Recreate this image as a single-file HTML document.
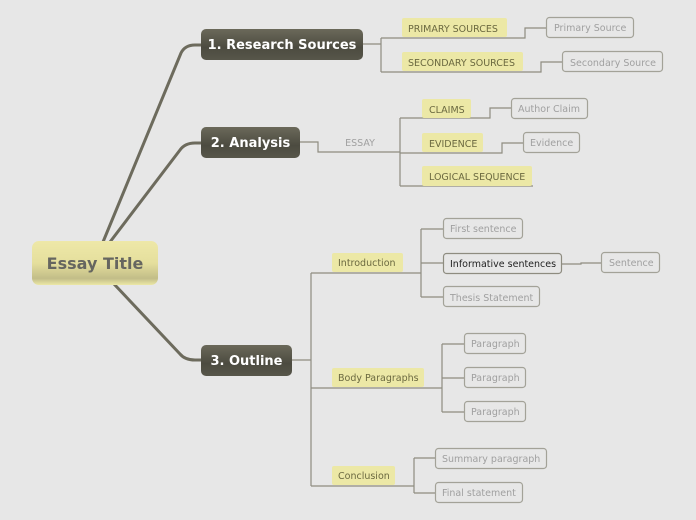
<!DOCTYPE html>
<html><head><meta charset="utf-8"><style>
html,body{margin:0;padding:0;background:#e7e7e7;}
svg{display:block}
text{font-family:"DejaVu Sans","Liberation Sans",sans-serif;}
.y{fill:#ece8a6}
.yt{fill:#6b6940;font-size:9.5px}
.w{fill:#e7e7e7;stroke:#a3a298;stroke-width:1.2}
.wt{fill:#a0a0a0;font-size:9.5px}
.l{fill:none;stroke:#8e8c80;stroke-width:1.2}
.r{fill:none;stroke:#6d6b5d;stroke-width:3}
.dt{fill:#fff;font-size:13px;font-weight:bold}
</style></head><body>
<svg width="696" height="520" viewBox="0 0 696 520">
<defs>
<linearGradient id="dk" x1="0" y1="0" x2="0" y2="1"><stop offset="0" stop-color="#6b695a"/><stop offset="0.6" stop-color="#4c4b40"/><stop offset="1" stop-color="#57564a"/></linearGradient>
<linearGradient id="yl" x1="0" y1="0" x2="0" y2="1"><stop offset="0" stop-color="#eee8a8"/><stop offset="0.5" stop-color="#e5df9d"/><stop offset="0.85" stop-color="#c2bd88"/><stop offset="1" stop-color="#ece8a6"/></linearGradient>
</defs>
<!-- root connectors -->
<path class="r" d="M103 242 L181 53 Q185 45 195 45 L202 45"/>
<path class="r" d="M110 242 L180 150 Q185 143 195 143 L202 143"/>
<path class="r" d="M114 284 L180 354 Q185 360 195 360 L202 360"/>
<!-- root -->
<rect x="32" y="241" width="126" height="44" rx="7" fill="url(#yl)"/>
<text x="95" y="269" text-anchor="middle" fill="#666660" font-size="16" font-weight="bold">Essay Title</text>
<!-- main nodes -->
<rect x="201" y="29" width="162" height="31" rx="5" fill="url(#dk)"/>
<text x="282" y="49" text-anchor="middle" class="dt">1. Research Sources</text>
<rect x="201" y="127" width="99" height="31" rx="5" fill="url(#dk)"/>
<text x="250.5" y="147" text-anchor="middle" class="dt">2. Analysis</text>
<rect x="201" y="345" width="91" height="31" rx="5" fill="url(#dk)"/>
<text x="246.5" y="365" text-anchor="middle" class="dt">3. Outline</text>

<!-- Research -->
<path class="l" d="M363 44 H381 M381 38 V72 M381 38 H525 V28 H546 M381 72 H541 V62 H562"/>
<rect class="y" x="402" y="18" width="105" height="19" rx="2"/>
<text class="yt" x="408" y="32">PRIMARY SOURCES</text>
<rect class="y" x="402" y="52" width="121" height="19" rx="2"/>
<text class="yt" x="408" y="66">SECONDARY SOURCES</text>
<rect class="w" x="546.5" y="17.5" width="87" height="20" rx="3"/>
<text class="wt" x="554" y="31">Primary Source</text>
<rect class="w" x="562.5" y="51.5" width="100" height="20" rx="3"/>
<text class="wt" x="570" y="66">Secondary Source</text>

<!-- Analysis -->
<path class="l" d="M300 142 H318 V152 H400 M400 118 V186 M400 118 H490 V108 H511 M400 153 H502 V143 H523 M400 186 H533"/>
<text x="360" y="146" text-anchor="middle" class="wt" font-size="9">ESSAY</text>
<rect class="y" x="422" y="99" width="49" height="19" rx="2"/>
<text class="yt" x="429" y="113">CLAIMS</text>
<rect class="y" x="422" y="133" width="61" height="19" rx="2"/>
<text class="yt" x="429" y="147">EVIDENCE</text>
<rect class="y" x="422" y="166" width="110" height="20" rx="2"/>
<text class="yt" x="429" y="180">LOGICAL SEQUENCE</text>
<rect class="w" x="511.5" y="98.5" width="76" height="20" rx="3"/>
<text class="wt" x="518" y="112">Author Claim</text>
<rect class="w" x="523.5" y="132.5" width="56" height="20" rx="3"/>
<text class="wt" x="530" y="146">Evidence</text>

<!-- Outline -->
<path class="l" d="M292 360 H311 M311 273 V486 M311 273 H421 M421 229 V297 M421 229 H443 M421 263 H443 M421 297 H443 M562 264 H581 V263 H602
 M311 388 H442 M442 344 V412 M442 344 H464 M442 378 H464 M442 412 H464 M311 486 H414 M414 458 V493 M414 458 H435 M414 493 H435"/>
<rect class="y" x="332" y="253" width="71" height="19" rx="2"/>
<text class="yt" x="338" y="266">Introduction</text>
<rect class="y" x="332" y="368" width="92" height="19" rx="2"/>
<text class="yt" x="338" y="381">Body Paragraphs</text>
<rect class="y" x="332" y="466" width="63" height="19" rx="2"/>
<text class="yt" x="338" y="479">Conclusion</text>

<rect class="w" x="443.5" y="218.5" width="79" height="20" rx="3"/>
<text class="wt" x="450" y="232">First sentence</text>
<rect class="w" x="443.5" y="253.5" width="118" height="20" rx="3" style="stroke:#8e8c80"/>
<text class="wt" x="450" y="267" style="fill:#222">Informative sentences</text>
<rect class="w" x="443.5" y="286.5" width="96" height="20" rx="3"/>
<text class="wt" x="450" y="301">Thesis Statement</text>
<rect class="w" x="601.5" y="252.5" width="58" height="20" rx="3"/>
<text class="wt" x="609" y="266">Sentence</text>
<rect class="w" x="464.5" y="333.5" width="61" height="20" rx="3"/>
<text class="wt" x="471" y="347">Paragraph</text>
<rect class="w" x="464.5" y="367.5" width="61" height="20" rx="3"/>
<text class="wt" x="471" y="381">Paragraph</text>
<rect class="w" x="464.5" y="401.5" width="61" height="20" rx="3"/>
<text class="wt" x="471" y="415">Paragraph</text>
<rect class="w" x="435.5" y="448.5" width="111" height="20" rx="3"/>
<text class="wt" x="442" y="462">Summary paragraph</text>
<rect class="w" x="435.5" y="482.5" width="87" height="20" rx="3"/>
<text class="wt" x="442" y="496">Final statement</text>
</svg>
</body></html>
